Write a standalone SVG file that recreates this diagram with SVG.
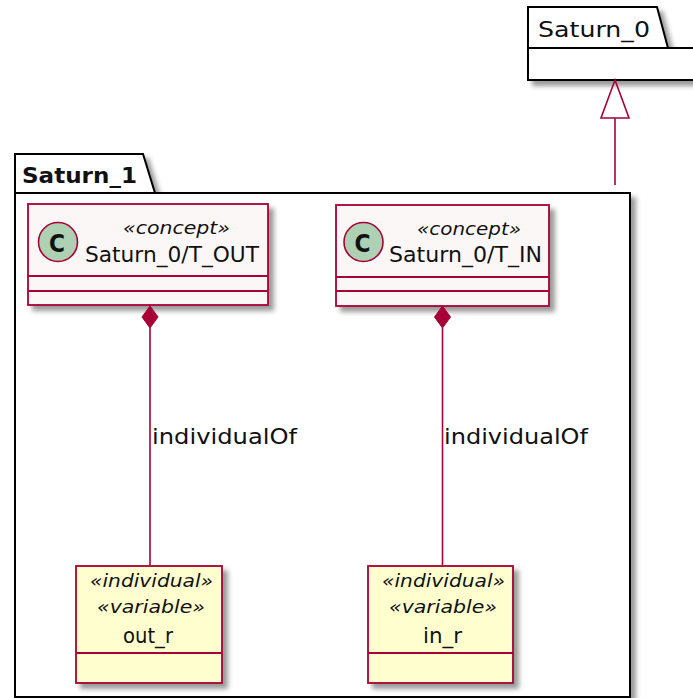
<svg xmlns="http://www.w3.org/2000/svg" width="693" height="698" viewBox="0 0 693 698">
<style>
text{font-family:"DejaVu Sans","Liberation Sans",sans-serif;fill:#111}
.pkg{fill:#fff;stroke:#000;stroke-width:2}
.cls{fill:#FCF7F7;stroke:#A80036;stroke-width:1.8}
.ind{fill:#FEFECE;stroke:#A80036;stroke-width:1.8}
.sep{stroke:#A80036;stroke-width:1.8;fill:none}
.psep{stroke:#000;stroke-width:2;fill:none}
.circ{fill:#ADD1B2;stroke:#A80036;stroke-width:1.6}
.ster{font-style:italic;font-size:18px}
.name{font-size:21px}
.lbl{font-size:21px}
.edge{stroke:#A80036;stroke-width:1.6;fill:none}
</style>
<defs>
<filter id="sh" x="-10%" y="-10%" width="130%" height="130%">
<feDropShadow dx="5" dy="5" stdDeviation="2.5" flood-color="#000" flood-opacity="0.4"/>
</filter>
</defs>

<g id="Saturn_0">
<path class="pkg" filter="url(#sh)" d="M528,7 H657 L668,48 H700 V80 H528 Z"/>
<line class="psep" x1="528" y1="48" x2="700" y2="48"/>
<text x="538" y="37" font-size="22" textLength="112" lengthAdjust="spacingAndGlyphs">Saturn_0</text>
</g>

<g id="Saturn_1">
<path class="pkg" filter="url(#sh)" d="M15,154 H143 L155,193 H630 V697 H15 Z"/>
<line class="psep" x1="15" y1="193" x2="630" y2="193"/>
<text x="22" y="183" font-size="22" font-weight="bold" textLength="115" lengthAdjust="spacingAndGlyphs">Saturn_1</text>
</g>

<g id="T_OUT">
<rect class="cls" filter="url(#sh)" x="28" y="204" width="240" height="101"/>
<line class="sep" x1="28" y1="276" x2="268" y2="276"/>
<line class="sep" x1="28" y1="291" x2="268" y2="291"/>
<circle class="circ" cx="58" cy="242" r="19.5"/>
<text x="57" y="252" font-family="Liberation Sans" font-weight="bold" font-size="25" text-anchor="middle" textLength="16" lengthAdjust="spacingAndGlyphs">C</text>
<text class="ster" x="123" y="234" textLength="107" lengthAdjust="spacingAndGlyphs">«concept»</text>
<text class="name" x="85" y="262" textLength="174" lengthAdjust="spacingAndGlyphs">Saturn_0/T_OUT</text>
</g>

<g id="T_IN">
<rect class="cls" filter="url(#sh)" x="336" y="205" width="213" height="101"/>
<line class="sep" x1="336" y1="277" x2="549" y2="277"/>
<line class="sep" x1="336" y1="291" x2="549" y2="291"/>
<circle class="circ" cx="363.5" cy="242" r="19.5"/>
<text x="362.5" y="252" font-family="Liberation Sans" font-weight="bold" font-size="25" text-anchor="middle" textLength="16" lengthAdjust="spacingAndGlyphs">C</text>
<text class="ster" x="417" y="235" textLength="104" lengthAdjust="spacingAndGlyphs">«concept»</text>
<text class="name" x="389" y="262" textLength="153" lengthAdjust="spacingAndGlyphs">Saturn_0/T_IN</text>
</g>

<g id="out_r">
<rect class="ind" filter="url(#sh)" x="76" y="566" width="146" height="117"/>
<line class="sep" x1="76" y1="653" x2="222" y2="653"/>
<text class="ster" x="90" y="587" textLength="123" lengthAdjust="spacingAndGlyphs">«individual»</text>
<text class="ster" x="97" y="613" textLength="108" lengthAdjust="spacingAndGlyphs">«variable»</text>
<text class="name" x="123" y="643" textLength="50" lengthAdjust="spacingAndGlyphs">out_r</text>
</g>

<g id="in_r">
<rect class="ind" filter="url(#sh)" x="368" y="566" width="145" height="117"/>
<line class="sep" x1="368" y1="653" x2="513" y2="653"/>
<text class="ster" x="382" y="587" textLength="123" lengthAdjust="spacingAndGlyphs">«individual»</text>
<text class="ster" x="389" y="613" textLength="108" lengthAdjust="spacingAndGlyphs">«variable»</text>
<text class="name" x="423" y="643" textLength="39" lengthAdjust="spacingAndGlyphs">in_r</text>
</g>

<g id="connectors">
<line class="edge" x1="150" y1="328" x2="150" y2="566"/>
<path d="M150,306 L158,317 L150,328 L142,317 Z" fill="#A80036" stroke="#A80036" stroke-width="1"/>
<text class="lbl" x="152" y="444" textLength="145" lengthAdjust="spacingAndGlyphs">individualOf</text>

<line class="edge" x1="442.5" y1="328" x2="442.5" y2="566"/>
<path d="M442.5,306 L450.5,317 L442.5,328 L434.5,317 Z" fill="#A80036" stroke="#A80036" stroke-width="1"/>
<text class="lbl" x="444" y="444" textLength="144" lengthAdjust="spacingAndGlyphs">individualOf</text>

<line class="edge" x1="615" y1="118" x2="615" y2="185"/>
<path class="edge" d="M615,80 L629,118 L601,118 Z" fill="#fff"/>
</g>
</svg>
